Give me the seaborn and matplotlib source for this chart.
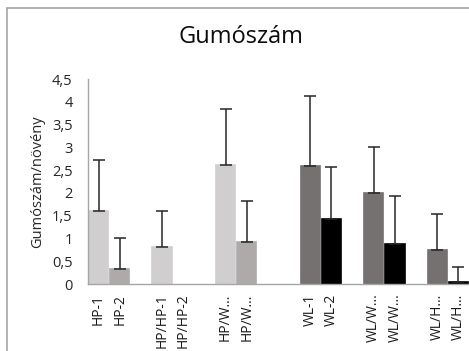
import matplotlib
matplotlib.use("Agg")
import matplotlib.pyplot as plt
from matplotlib.lines import Line2D
import seaborn as sns
import pandas as pd

# Data; empty slots are spacers between groups
slots = ["HP-1", "HP-2", "_s1", "HP/HP-1", "HP/HP-2", "_s2", "HP/W-1", "HP/W-2",
         "_s3", "_s4", "WL-1", "WL-2", "_s5", "WL/W-1", "WL/W-2", "_s6", "WL/H-1", "WL/H-2"]
tick_labels = ["HP-1", "HP-2", "", "HP/HP-1", "HP/HP-2", "", "HP/W...", "HP/W...",
               "", "", "WL-1", "WL-2", "", "WL/W...", "WL/W...", "", "WL/H...", "WL/H..."]
names = ["HP-1", "HP-2", "HP/HP-1", "HP/HP-2", "HP/W-1", "HP/W-2",
         "WL-1", "WL-2", "WL/W-1", "WL/W-2", "WL/H-1", "WL/H-2"]
means = [1.6, 0.32, 0.82, 0.0, 2.62, 0.93, 2.6, 1.42, 2.0, 0.88, 0.75, 0.05]
errors = [1.12, 0.70, 0.78, 0.0, 1.23, 0.90, 1.52, 1.15, 1.0, 1.06, 0.78, 0.32]
colors = ["#d0cece", "#aeaaaa", "#d0cece", "#aeaaaa", "#d0cece", "#aeaaaa",
          "#767171", "#000000", "#767171", "#000000", "#767171", "#000000"]

df = pd.DataFrame({"name": names, "mean": means, "err": errors})
palette = dict(zip(names, colors))

sns.set_style("white")
plt.rcParams['font.family'] = ['Open Sans', 'DejaVu Sans']

fig = plt.figure(figsize=(4.69, 3.51), dpi=100)
ax = fig.add_axes([88 / 469, 1 - 284 / 351, 1 - 88 / 469, (284 - 79) / 351])

sns.barplot(data=df, x="name", y="mean", hue="name", order=slots, palette=palette,
            hue_order=names, dodge=False, legend=False, width=0.92, errorbar=None,
            saturation=1, ax=ax, linewidth=0)

for bar in ax.patches:
    if bar.get_height() > 0:
        bar.set_edgecolor(bar.get_facecolor())
        bar.set_linewidth(1.2)
        bar.set_clip_on(False)

# upper-only error bars, skipping empty bars
eb = df[df["err"] > 0]
pos = [slots.index(n) for n in eb["name"]]
ax.errorbar(pos, eb["mean"], yerr=[[0] * len(eb), eb["err"]], fmt="none",
            ecolor="#262626", elinewidth=1.1, capsize=4, capthick=1.1, zorder=3)

ax.set_ylim(0, 4.5)
ax.set_xlim(-0.5, len(slots) - 0.5)
yt = [i * 0.5 for i in range(10)]
ax.set_yticks(yt)
ax.set_yticklabels([f"{v:g}".replace(".", ",") for v in yt], fontsize=10.5, color="#262626")
ax.set_xticks(range(len(slots)))
ax.set_xticklabels(tick_labels, rotation=90, fontsize=10, color="#1a1a1a")
ax.set_xlabel("")
ax.set_ylabel("Gumószám/növény", fontsize=10.5, color="#262626", labelpad=5)

for s in ["top", "right"]:
    ax.spines[s].set_visible(False)
ax.spines["left"].set_color("#a6a6a6")
ax.spines["bottom"].set_color("#a6a6a6")
ax.spines["left"].set_linewidth(1.0)
ax.spines["bottom"].set_linewidth(1.0)
ax.tick_params(axis="y", direction="out", length=5, color="#a6a6a6", width=1, pad=6)
ax.tick_params(axis="x", length=0, pad=7)

fig.text(241 / 469, 1 - 37 / 351, "Gumószám", ha="center", va="center",
         fontsize=17, color="#0d0d0d")

# chart area border (left and top)
fig.add_artist(Line2D([7 / 469, 7 / 469], [0, 1 - 8 / 351], transform=fig.transFigure,
                      color="#a6a6a6", linewidth=1.2))
fig.add_artist(Line2D([7 / 469, 1], [1 - 8 / 351, 1 - 8 / 351], transform=fig.transFigure,
                      color="#a6a6a6", linewidth=1.2))

fig.savefig("out.png", dpi=100)
